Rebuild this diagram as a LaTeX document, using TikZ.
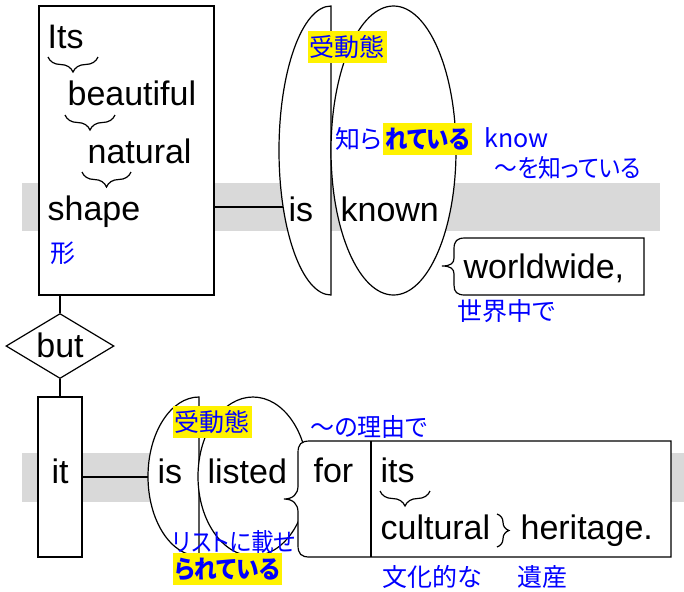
\documentclass[tikz,border=0pt]{standalone}
\usepackage{fontspec}
\setmainfont{Liberation Sans}
\newfontfamily\jp[RawFeature=+palt]{Noto Sans CJK JP}
\usetikzlibrary{shapes.geometric,decorations.pathreplacing,fit,calc}
\definecolor{band}{RGB}{217,217,217}
\newcommand{\kanasq}[2][0.91]{\scalebox{#1}[1]{#2}}
\begin{document}
\begin{tikzpicture}[x=0.5pt,y=-0.5pt,line width=0.6pt,
  word/.style={font=\fontsize{17}{20}\selectfont, anchor=base west, inner sep=0pt},
  jl/.style={font=\jp\fontsize{12.5}{15}\selectfont, text=blue, anchor=base west, inner sep=0pt},
  hl/.style={jl, fill=yellow, inner xsep=1pt, inner ysep=0pt, text height=12.75pt, text depth=3.25pt},
  boxw/.style={draw, fill=white, inner sep=0pt},
  br/.style={decorate, decoration={brace, amplitude=6pt}},
  brd/.style={decorate, decoration={brace, amplitude=7.5pt, mirror}}]
\useasboundingbox (0,0) rectangle (684,591);
% bands
\fill[band] (22,183) rectangle (660,231);
\fill[band] (22,453) rectangle (684,502);
% ---------- top clause
\node[boxw, fit={(39,6) (214,295)}] (box1) {};
\coordinate (isTopW) at (283,207);
\draw (isTopW -| box1.east) -- (isTopW);
\draw[fill=white] (331,295) arc[start angle=270, end angle=90, x radius=26pt, y radius=72.25pt] -- cycle;
\node[ellipse, draw, fill=white, minimum width=62.5pt, minimum height=144.5pt, inner sep=0pt] (knownE) at (393.5,150.5) {};
\draw[fill=white] (644,238) -- (465,238) .. controls (457,238) and (454,241) .. (454,249) -- (454,258) .. controls (454,263) and (451,266) .. (442,266) .. controls (451,266) and (454,269) .. (454,274) -- (454,285) .. controls (454,292) and (457,295) .. (465,295) -- (644,295) -- cycle;

\node[word] (its1) at (47,48) {Its};
\node[word] (beau) at (67,105) {beautiful};
\node[word] (nat) at (87,163) {natural};
\node[word] (shape) at (47,220) {shape};
\node[jl] (katachi) at (50,262.5) {形};
\draw[brd] (48,57) -- (98,57);
\draw[brd] (65,115) -- (115,115);
\draw[brd] (82,172) -- (131,172);

\node[word] (isT) at (288,221) {is};
\node[word] (known) at (340,221) {known};
\node[hl] (judo1) at (307,56.5) {受動態};
\node[jl] (shira) at (335,148) {知ら};
\node[hl] (reteiru) at (shira.base east) {\kanasq[0.9]{\bfseries れている}};
\node[jl] (know) at (484,147) {know};
\node[jl] (woshit) at (494,177.5) {\kanasq{～を知っている}};
\node[word] (ww) at (463,278) {worldwide,};
\node[jl] (sekai) at (457,320.5) {世界中で};

% ---------- but
\node[diamond, draw, fill=white, minimum width=54pt, minimum height=32.5pt, inner sep=0pt] (dia) at (60,346) {};
\node[word, anchor=base] (but) at (60,357) {but};
\node[boxw, fit={(38,397) (82,557)}] (itbox) {};
\draw (dia.north |- box1.south) -- (dia.north);
\draw (dia.south) -- (itbox.north);
\node[word, anchor=base] (it) at (60,483) {it};

% ---------- bottom clause
\coordinate (isBotW) at (148,477);
\draw (itbox.east) -- (isBotW);
\draw[fill=white] (199,556) arc[start angle=270, end angle=90, x radius=25.5pt, y radius=39.75pt] -- cycle;
\node[ellipse, draw, fill=white, minimum width=55pt, minimum height=79.5pt, inner sep=0pt] (listE) at (253,476.5) {};
\draw[fill=white] (671,441) -- (310,441) .. controls (301,441) and (298,444) .. (298,453) -- (298,486) .. controls (298,494) and (293,499) .. (284,499) .. controls (293,499) and (298,504) .. (298,512) -- (298,545) .. controls (298,554) and (301,557) .. (310,557) -- (671,557) -- cycle;
\coordinate (divT) at (371,441);
\coordinate (divB) at (371,557);
\draw (divT) -- (divB);

\node[word] (isB) at (157,483) {is};
\node[word] (listed) at (207,483) {listed};
\node[hl] (judo2) at (172,431.5) {受動態};
\node[jl] (risuto) at (172,551) {\kanasq{リストに載せ}};
\node[hl] (rareteiru) at (172,578) {\kanasq{\bfseries られている}};
\node[jl] (riyuu) at (310,436.5) {\kanasq[0.96]{～の理由で}};
\node[word] (for) at (313,482) {for};
\node[word] (its2) at (380,482) {its};
\draw[brd] (380,491) -- (430,491);
\node[word] (cult) at (380,539) {cultural};
\draw[br] (497,514) -- (497,547);
\node[word] (herit) at (520,539) {heritage.};
\node[jl] (bunka) at (382,586.5) {文化的な};
\node[jl] (isan) at (517,586.5) {遺産};
\end{tikzpicture}
\end{document}
